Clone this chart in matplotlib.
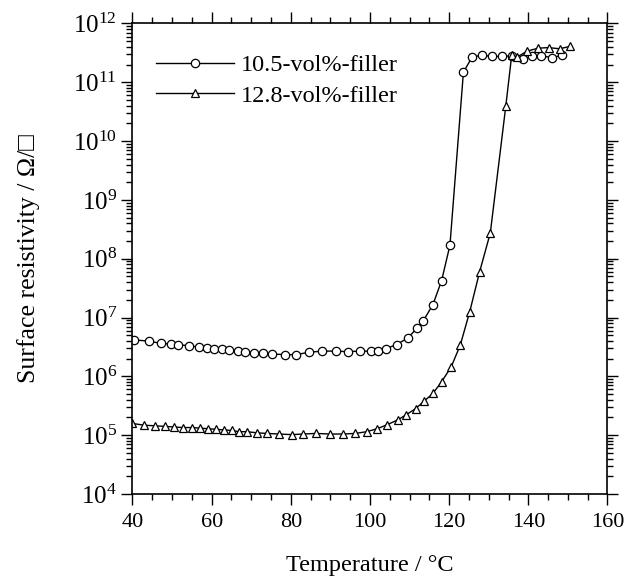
import matplotlib
matplotlib.use("Agg")
import matplotlib.pyplot as plt
from matplotlib.ticker import MultipleLocator, LogLocator
import numpy as np

plt.rcParams["font.family"] = ["Liberation Serif", "DejaVu Serif"]
plt.rcParams["mathtext.fontset"] = "custom"
plt.rcParams["mathtext.rm"] = "Liberation Serif"

# ---------- data (log10 of resistivity) ----------
temp_105 = [40.4, 44.1, 47.3, 49.7, 51.5, 54.3, 56.7, 58.7, 60.6, 62.5,
            64.5, 66.6, 68.5, 70.7, 72.9, 75.3, 78.6, 81.3, 84.6, 88.0,
            91.5, 94.4, 97.4, 100.3, 101.9, 104.0, 106.7, 109.5, 111.9, 113.5,
            115.9, 118.1, 120.2, 123.6, 125.8, 128.3, 130.8, 133.3, 135.9, 138.6,
            140.9, 143.1, 146.0, 148.6]
log_105 = [6.62, 6.60, 6.56, 6.55, 6.54, 6.52, 6.50, 6.48, 6.47, 6.46,
           6.45, 6.43, 6.42, 6.40, 6.39, 6.38, 6.37, 6.37, 6.41, 6.43,
           6.43, 6.42, 6.43, 6.43, 6.44, 6.47, 6.54, 6.65, 6.82, 6.95,
           7.22, 7.63, 8.23, 11.17, 11.43, 11.46, 11.44, 11.44, 11.45, 11.40,
           11.44, 11.45, 11.42, 11.46]

temp_128 = [40.0, 42.9, 45.6, 48.2, 50.5, 52.8, 55.1, 57.1, 59.1, 61.1,
            63.0, 65.1, 66.9, 68.9, 71.5, 74.0, 77.1, 80.2, 83.2, 86.3,
            89.9, 93.2, 96.3, 99.2, 101.8, 104.4, 107.0, 109.2, 111.5, 113.7,
            115.9, 118.1, 120.5, 122.8, 125.2, 127.7, 130.4, 134.3, 135.8, 137.2,
            139.7, 142.5, 145.1, 147.9, 150.5]
log_128 = [5.20, 5.17, 5.16, 5.15, 5.14, 5.13, 5.13, 5.12, 5.11, 5.10,
           5.09, 5.08, 5.06, 5.06, 5.04, 5.03, 5.02, 5.01, 5.02, 5.03,
           5.02, 5.02, 5.03, 5.06, 5.11, 5.18, 5.26, 5.35, 5.45, 5.58,
           5.71, 5.91, 6.16, 6.53, 7.10, 7.78, 8.44, 10.59, 11.46, 11.43,
           11.53, 11.58, 11.59, 11.57, 11.61]

labels = ["10.5-vol%-filler", "12.8-vol%-filler"]

fig = plt.figure(figsize=(6.33, 5.87), dpi=100)
ax = fig.add_axes([0.2093, 0.1584, 0.7504, 0.8016])

ax.plot(temp_105, 10 ** np.array(log_105), color="black", lw=1.0,
        marker="o", ms=6, mfc="white", mec="black", mew=0.9, label=labels[0])
ax.plot(temp_128, 10 ** np.array(log_128), color="black", lw=1.0,
        marker="^", ms=6, mfc="white", mec="black", mew=0.9, label=labels[1])

ax.set_yscale("log")
ax.set_xlim(40, 160)
ax.set_ylim(1e4, 1e12)
ax.xaxis.set_major_locator(MultipleLocator(20))
ax.xaxis.set_minor_locator(MultipleLocator(5))
ax.yaxis.set_major_locator(LogLocator(base=10, numticks=20))
ax.yaxis.set_minor_locator(LogLocator(base=10, subs=np.arange(2, 10), numticks=20))

ax.tick_params(which="both", direction="out", top=True, right=True, width=1.0)
ax.tick_params(which="major", length=8, pad=4)
ax.tick_params(which="minor", length=4)
ax.tick_params(axis="x", which="major", labelsize=16, pad=6)
ax.tick_params(axis="y", which="major", labelsize=18, pad=3)
for s in ax.spines.values():
    s.set_linewidth(1.2)

ax.set_xlabel("Temperature / °C", fontsize=17.5, labelpad=16)
ax.set_ylabel("Surface resistivity / Ω/□", fontsize=18.5, labelpad=24,
              family=["Liberation Serif", "DejaVu Serif"])

ax.legend(loc="upper left", bbox_to_anchor=(0.05, 0.935), frameon=False,
          fontsize=17.5, handlelength=3.2, handletextpad=0.3, labelspacing=0.35,
          borderpad=0, borderaxespad=0)

fig.savefig("out.png", dpi=100)
